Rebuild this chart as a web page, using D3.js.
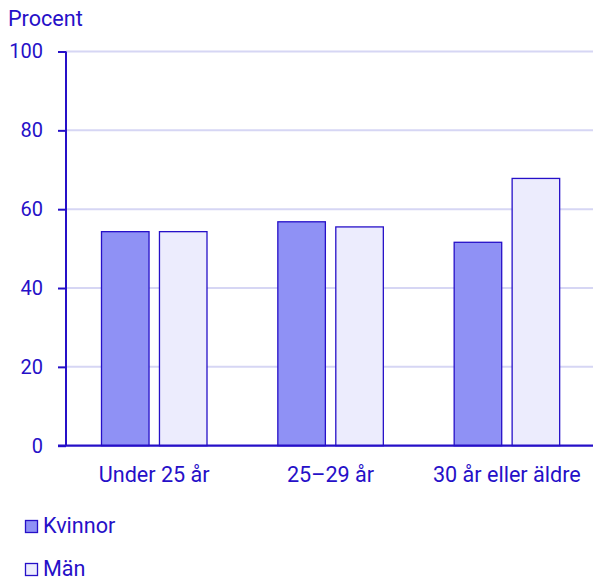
<!DOCTYPE html>
<html>
<head>
<meta charset="utf-8">
<script src="https://cdn.jsdelivr.net/npm/d3@7"></script>
<style>
  html, body { margin: 0; padding: 0; background: #fff; }
  svg { display: block; }
  text { font-family: Roboto, "Noto Sans", sans-serif; }
</style>
</head>
<body>
<svg id="chart" width="593" height="578"></svg>
<script>
const categories = ["Under 25 år", "25–29 år", "30 år eller äldre"];
const seriesNames = ["Kvinnor", "Män"];
const kvinnor = [54.3, 56.8, 51.6];
const man = [54.3, 55.5, 67.8];
const yTicks = [0, 20, 40, 60, 80, 100];
const yTitle = "Procent";

const seriesValues = [kvinnor, man];
const fills = ["#8f91f5", "#ececfd"];
const ink = "#2610c8";
const gridColor = "#d6d6f4";
const fontSize = 21.6;
const tickFontSize = 20;

const svg = d3.select("#chart");

const x0 = d3.scaleBand().domain(categories).range([66, 595]).padding(0);
const x1 = d3.scaleBand().domain(seriesNames).range([35.5, 141]).paddingInner(0.18).paddingOuter(0);
const y = d3.scaleLinear().domain([0, 100]).range([445.7, 51.5]);

// gridlines
svg.append("g").selectAll("line")
  .data(yTicks.filter(d => d > 0))
  .join("line")
  .attr("x1", 66).attr("x2", 593)
  .attr("y1", d => y(d)).attr("y2", d => y(d))
  .attr("stroke", gridColor).attr("stroke-width", 2);

// bars
const groups = svg.append("g").selectAll("g")
  .data(categories)
  .join("g")
  .attr("transform", d => `translate(${x0(d)},0)`);

groups.selectAll("rect")
  .data((c, i) => seriesNames.map((s, j) => ({ s, j, v: seriesValues[j][i] })))
  .join("rect")
  .attr("x", d => x1(d.s))
  .attr("width", x1.bandwidth())
  .attr("y", d => y(d.v))
  .attr("height", d => y(0) - y(d.v))
  .attr("fill", d => fills[d.j])
  .attr("stroke", ink)
  .attr("stroke-width", 1.3);

// y axis
const yAxis = d3.axisLeft(y).tickValues(yTicks).tickSize(8).tickPadding(15).tickFormat(d3.format("d"));
const gy = svg.append("g").attr("transform", "translate(66,0)").call(yAxis);
gy.select(".domain").attr("stroke", ink).attr("stroke-width", 2).attr("d", `M0,${y(100)}V${y(0)}`);
gy.selectAll(".tick line").attr("stroke", ink).attr("stroke-width", 2);
gy.selectAll(".tick text").attr("fill", ink).style("font-size", tickFontSize + "px").style("font-family", "Roboto");

// baseline
svg.append("line")
  .attr("x1", 58).attr("x2", 593)
  .attr("y1", y(0)).attr("y2", y(0))
  .attr("stroke", ink).attr("stroke-width", 2.2);

// x labels
const xAxis = d3.axisBottom(x0).tickSize(0).tickPadding(21);
const gx = svg.append("g").attr("transform", `translate(0,${y(0)})`).call(xAxis);
gx.select(".domain").remove();
gx.selectAll(".tick text").attr("fill", ink).style("font-size", fontSize + "px").style("font-family", "Roboto");

// y title
svg.append("text")
  .attr("x", 8).attr("y", 26)
  .attr("fill", ink)
  .style("font-size", fontSize + "px")
  .text(yTitle);

// legend
const legend = svg.append("g").selectAll("g")
  .data(seriesNames)
  .join("g")
  .attr("transform", (d, i) => `translate(0,${533 + i * 43})`);
legend.append("rect")
  .attr("x", 25.5).attr("y", -12.5)
  .attr("width", 12).attr("height", 12)
  .attr("fill", (d, i) => fills[i])
  .attr("stroke", ink).attr("stroke-width", 1.3);
legend.append("text")
  .attr("x", 43).attr("y", 0)
  .attr("fill", ink)
  .style("font-size", fontSize + "px")
  .text(d => d);
</script>
</body>
</html>
